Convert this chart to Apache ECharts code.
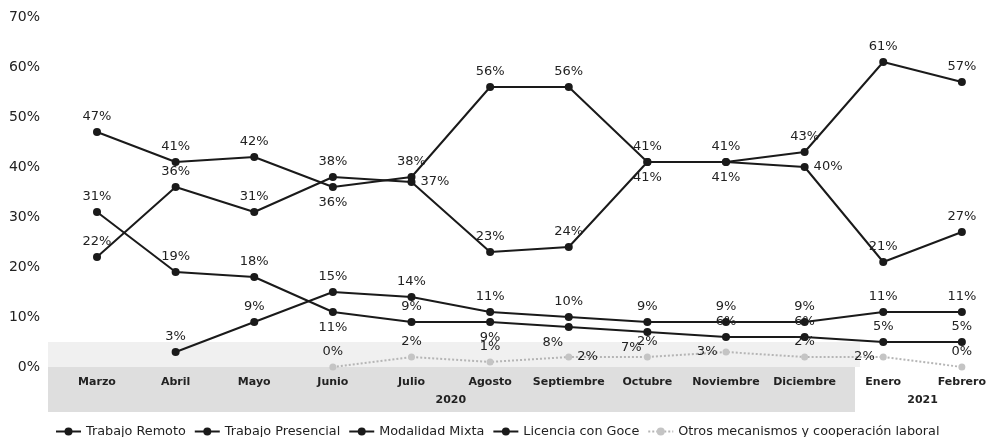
<!DOCTYPE html>
<html>
<head>
<meta charset="utf-8">
<script src="https://cdn.jsdelivr.net/npm/echarts@6/dist/echarts.min.js"></script>
<style>
  html, body { margin: 0; padding: 0; background: #fff; }
  #chart { width: 989px; height: 437px; }
</style>
</head>
<body>
<div id="chart"></div>
<script>
// meses (2020 - 2021)
var months = ['Marzo', 'Abril', 'Mayo', 'Junio', 'Julio', 'Agosto', 'Septiembre', 'Octubre', 'Noviembre', 'Diciembre', 'Enero', 'Febrero']
var seriesNames = ['Trabajo Remoto', 'Trabajo Presencial', 'Modalidad Mixta', 'Licencia con Goce', 'Otros mecanismos y cooperación laboral']

// porcentajes
var remoto     = [47, 41, 42, 36, 38, 56, 56, 41, 41, 43, 61, 57]
var presencial = [22, 36, 31, 38, 37, 23, 24, 41, 41, 40, 21, 27]
var mixta      = [null, 3, 9, 15, 14, 11, 10, 9, 9, 9, 11, 11]
var licencia   = [31, 19, 18, 11, 9, 9, 8, 7, 6, 6, 5, 5]
var otros      = [null, null, null, 0, 2, 1, 2, 2, 3, 2, 2, 0]

var yTicks = [0, 10, 20, 30, 40, 50, 60, 70]

// donde va cada etiqueta (t = arriba, b = abajo, r = derecha, l = izquierda)
var posRemoto     = ['t', 't', 't', 'b', 't', 't', 't', 't', 't', 't', 't', 't']
var posPresencial = ['t', 't', 't', 't', 'r', 't', 't', 'b', 'b', 'r', 't', 't']
var posMixta      = ['t', 't', 't', 't', 't', 't', 't', 't', 't', 't', 't', 't']
var posLicencia   = ['t', 't', 't', 'b', 't', 'b', 'bl', 'bl', 't', 't', 't', 't']
var posOtros      = ['t', 't', 't', 't', 't', 't', 'r', 't', 'l', 't', 'l', 't']

var FONT = 'DejaVu Sans'
var INK = '#1a1a1a'

function labelFor(code) {
  if (code === 'b') return { position: 'bottom' }
  if (code === 'r') return { position: 'right' }
  if (code === 'l') return { position: 'left' }
  if (code === 'bl') return { position: 'bottom', offset: [-16, 0] }
  return { position: 'top' }
}

function buildData(values, pos) {
  return values.map(function (v, i) {
    if (v === null) return null
    return { value: v, label: labelFor(pos[i]) }
  })
}

function lineSeries(name, values, pos, gray) {
  return {
    name: name,
    type: 'line',
    data: buildData(values, pos),
    symbol: 'circle',
    symbolSize: gray ? 7 : 8,
    connectNulls: false,
    itemStyle: { color: gray ? '#c4c4c4' : INK },
    lineStyle: {
      color: gray ? '#b5b5b5' : INK,
      width: 2,
      type: gray ? 'dotted' : 'solid'
    },
    label: {
      show: true,
      formatter: '{c}%',
      fontFamily: FONT,
      fontSize: 13,
      color: '#222',
      distance: 5
    },
    animation: false
  }
}

var chart = echarts.init(document.getElementById('chart'))

var option = {
  backgroundColor: '#fff',
  textStyle: { fontFamily: FONT },
  grid: { left: 97, right: 26, top: 17, bottom: 70 },
  xAxis: {
    type: 'category',
    data: months,
    boundaryGap: false,
    axisLine: { show: false },
    axisTick: { show: false },
    axisLabel: {
      fontFamily: FONT,
      fontSize: 11,
      fontWeight: 'bold',
      color: '#222',
      margin: 10,
      interval: 0
    }
  },
  yAxis: {
    type: 'value',
    min: yTicks[0],
    max: yTicks[yTicks.length - 1],
    interval: 10,
    splitLine: { show: false },
    axisLine: { show: false },
    axisTick: { show: false },
    axisLabel: {
      formatter: '{value}%',
      fontFamily: FONT,
      fontSize: 14,
      color: '#222',
      margin: 57
    }
  },
  legend: {
    data: seriesNames,
    left: 50,
    top: 420,
    itemWidth: 25,
    itemHeight: 10,
    itemGap: 8,
    textStyle: { fontFamily: FONT, fontSize: 12.8, color: '#222' }
  },
  series: [
    lineSeries(seriesNames[0], remoto, posRemoto),
    lineSeries(seriesNames[1], presencial, posPresencial),
    lineSeries(seriesNames[2], mixta, posMixta),
    lineSeries(seriesNames[3], licencia, posLicencia),
    lineSeries(seriesNames[4], otros, posOtros, true)
  ]
}

chart.setOption(option)

// franja gris del eje y etiquetas de año, colocadas con la escala del eje
var x2020 = (chart.convertToPixel({ xAxisIndex: 0 }, 'Julio') + chart.convertToPixel({ xAxisIndex: 0 }, 'Agosto')) / 2
var x2021 = (chart.convertToPixel({ xAxisIndex: 0 }, 'Enero') + chart.convertToPixel({ xAxisIndex: 0 }, 'Febrero')) / 2
var yZero = chart.convertToPixel({ yAxisIndex: 0 }, 0)

chart.setOption({
  graphic: [
    { type: 'rect', z: -10, shape: { x: 48, y: yZero - 25, width: 812, height: 25 }, style: { fill: '#f0f0f0' } },
    { type: 'rect', z: -10, shape: { x: 48, y: yZero, width: 807, height: 45 }, style: { fill: '#dedede' } },
    { type: 'text', z: 5, x: x2020, y: yZero + 33, style: { text: '2020', fontFamily: FONT, fontSize: 11, fontWeight: 'bold', fill: '#222', align: 'center', verticalAlign: 'middle' } },
    { type: 'text', z: 5, x: x2021, y: yZero + 33, style: { text: '2021', fontFamily: FONT, fontSize: 11, fontWeight: 'bold', fill: '#222', align: 'center', verticalAlign: 'middle' } }
  ]
})
</script>
</body>
</html>
